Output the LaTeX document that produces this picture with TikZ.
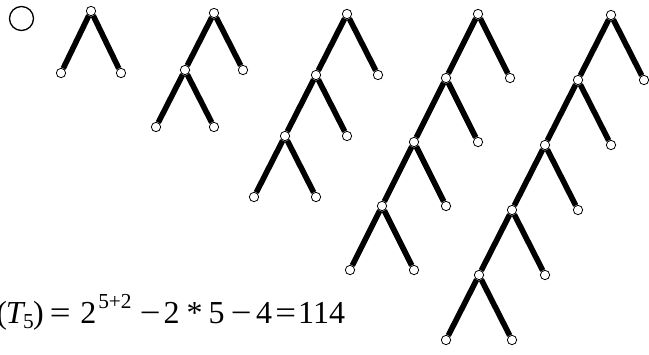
\documentclass[tikz,border=0pt]{standalone}
\usepackage{fontspec}
\usepackage{graphicx}
\setmainfont{Liberation Serif}
\usetikzlibrary{positioning}

% glyph centred at a horizontal offset (in pt) from the previous one
\newcommand\putglyph[2]{\kern#1pt\makebox[0pt]{#2}}
\newcommand\wide[1]{\scalebox{1.15}[1]{#1}}

\tikzset{
  vtx/.style={circle,draw,fill=white,inner sep=0pt,minimum size=7pt,line width=0.6pt},
  edge/.style={line width=4.2pt},
}

\begin{document}
\begin{tikzpicture}[x=0.75pt,y=-0.75pt]
\useasboundingbox (0,0) rectangle (649,354);
% single vertex
\node[circle,draw,line width=1pt,minimum size=18pt,inner sep=0pt] (single) at (21.5,18.5) {};
% caterpillar trees: tree/root x/root y/dx/dy/depth
\foreach \k/\rx/\ry/\dx/\dy/\n in {1/91/11/30/62/1,2/214/13/29/57/2,3/347/14/31/61/3,4/478/14/32/64/4,5/611/15/33/65/5}{
  \node[vtx] (s\k-0) at (\rx,\ry) {};
  \foreach \i [evaluate=\i as \j using int(\i-1)] in {1,...,\n}{
    \node[vtx] (s\k-\i) at ({\rx-\i*\dx},{\ry+\i*\dy}) {};
    \node[vtx] (r\k-\i) at ({\rx-(\i-2)*\dx},{\ry+\i*\dy}) {};
    \draw[edge] (s\k-\j) -- (s\k-\i);
    \draw[edge] (s\k-\j) -- (r\k-\i);
  }
}
% formula, clipped at the left edge
\node[anchor=base west,inner sep=0pt,font=\fontsize{24}{28}\selectfont] (formula) at (1.5,323)
  {\putglyph{0}{(}\putglyph{10.5}{\textit{T}}%
   \putglyph{9.5}{\raisebox{-4pt}{\fontsize{16}{16}\selectfont 5}}%
   \putglyph{7.5}{)}\putglyph{16.4}{\wide{=}}\putglyph{21}{2}%
   \putglyph{20}{\raisebox{11pt}{\fontsize{16}{16}\selectfont 5+2}}%
   \putglyph{26.4}{\wide{−}}\putglyph{16.1}{2}\putglyph{17.25}{*}%
   \putglyph{16.5}{5}\putglyph{18.4}{\wide{−}}\putglyph{17.25}{4}%
   \putglyph{16.1}{\wide{=}}\putglyph{27}{114}};
\end{tikzpicture}
\end{document}
